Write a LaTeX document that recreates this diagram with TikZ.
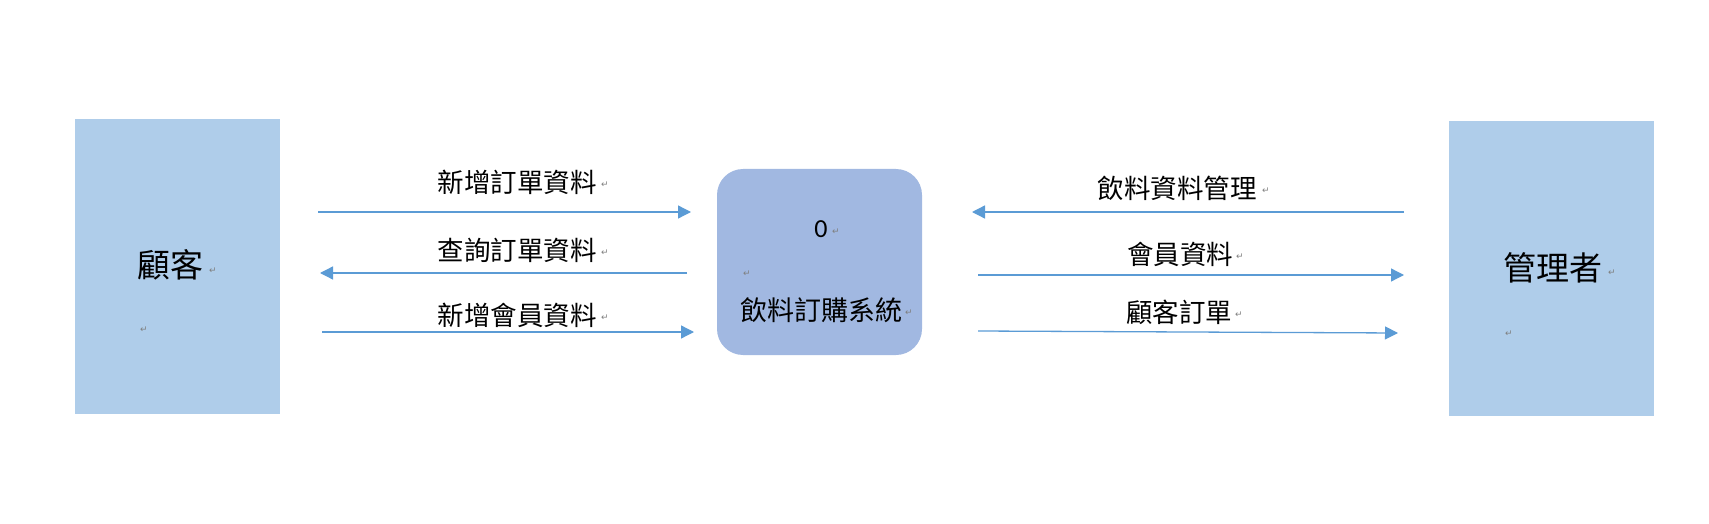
\documentclass[tikz,border=0pt]{standalone}
\usepackage{fontspec}
\newfontfamily\cjk{Noto Sans CJK TC}
\newfontfamily\dvs{DejaVu Sans}
\setmainfont{Carlito}
\usetikzlibrary{arrows.meta}
\definecolor{extfill}{HTML}{AFCDEA}
\definecolor{procfill}{HTML}{A1B8E1}
\definecolor{flowc}{HTML}{5B9BD5}
\definecolor{markc}{HTML}{7F7F7F}
\tikzset{
  extbox/.style={fill=extfill, draw=none, inner sep=0pt, minimum width=205pt, minimum height=295pt},
  procbox/.style={fill=procfill, draw=none, rounded corners=26pt, inner sep=0pt, minimum width=205pt, minimum height=186pt},
  bigtxt/.style={inner sep=0pt, font=\cjk\fontsize{33}{36}\selectfont},
  flowtxt/.style={inner sep=0pt, font=\cjk\fontsize{26.5}{29}\selectfont},
  proctxt/.style={inner sep=0pt, font=\cjk\fontsize{27}{29}\selectfont},
  pmark/.style={inner sep=0pt, text=markc, font=\dvs\fontsize{9}{10}\selectfont},
  flow/.style={draw=flowc, line width=1.3pt, -{Triangle[length=13pt,width=13pt]}},
}
\begin{document}
\begin{tikzpicture}[x=1pt,y=-1pt]
\useasboundingbox (0,0) rectangle (1709,524);
% boxes
\node[extbox] (cust) at (177.5,266.5) {};
\node[extbox] (mgr) at (1551.5,268.5) {};
\node[procbox] (sys) at (819.5,262) {};
% box texts
\node[bigtxt] (custt) at (170.5,265) {顧客};
\node[pmark] (custm1) at (213,271) {↵};
\node[pmark] (custm2) at (144,330) {↵};
\node[bigtxt] (mgrt) at (1553,268) {管理者};
\node[pmark] (mgrm1) at (1612,273) {↵};
\node[pmark] (mgrm2) at (1509,334) {↵};
\node[inner sep=0pt, font=\fontsize{26}{28}\selectfont] (sysn) at (821,229) {0};
\node[pmark] (sysm0) at (836,232) {↵};
\node[pmark] (sysm1) at (747,274) {↵};
\node[proctxt] (syst) at (821,310) {飲料訂購系統};
\node[pmark] (sysm2) at (909,313) {↵};
% flow labels
\node[flowtxt] (l1) at (517,182) {新增訂單資料};
\node[pmark] (l1m) at (605,185) {↵};
\node[flowtxt] (l2) at (517,250) {查詢訂單資料};
\node[pmark] (l2m) at (605,253) {↵};
\node[flowtxt] (l3) at (517,315) {新增會員資料};
\node[pmark] (l3m) at (605,318) {↵};
\node[flowtxt] (r1) at (1177,188) {飲料資料管理};
\node[pmark] (r1m) at (1266,191) {↵};
\node[flowtxt] (r2) at (1180,254) {會員資料};
\node[pmark] (r2m) at (1240,257) {↵};
\node[flowtxt] (r3) at (1179,312) {顧客訂單};
\node[pmark] (r3m) at (1239,315) {↵};
% arrow endpoints
\coordinate (a1s) at (318,212); \coordinate (a1e) at (691,212);
\coordinate (a2s) at (687,273); \coordinate (a2e) at (320,273);
\coordinate (a3s) at (322,332); \coordinate (a3e) at (694,332);
\coordinate (b1s) at (1404,212); \coordinate (b1e) at (972,212);
\coordinate (b2s) at (978,275); \coordinate (b2e) at (1404,275);
\coordinate (b3s) at (978,331); \coordinate (b3e) at (1398,333);
\draw[flow] (a1s) -- (a1e);
\draw[flow] (a2s) -- (a2e);
\draw[flow] (a3s) -- (a3e);
\draw[flow] (b1s) -- (b1e);
\draw[flow] (b2s) -- (b2e);
\draw[flow] (b3s) -- (b3e);
\end{tikzpicture}
\end{document}
